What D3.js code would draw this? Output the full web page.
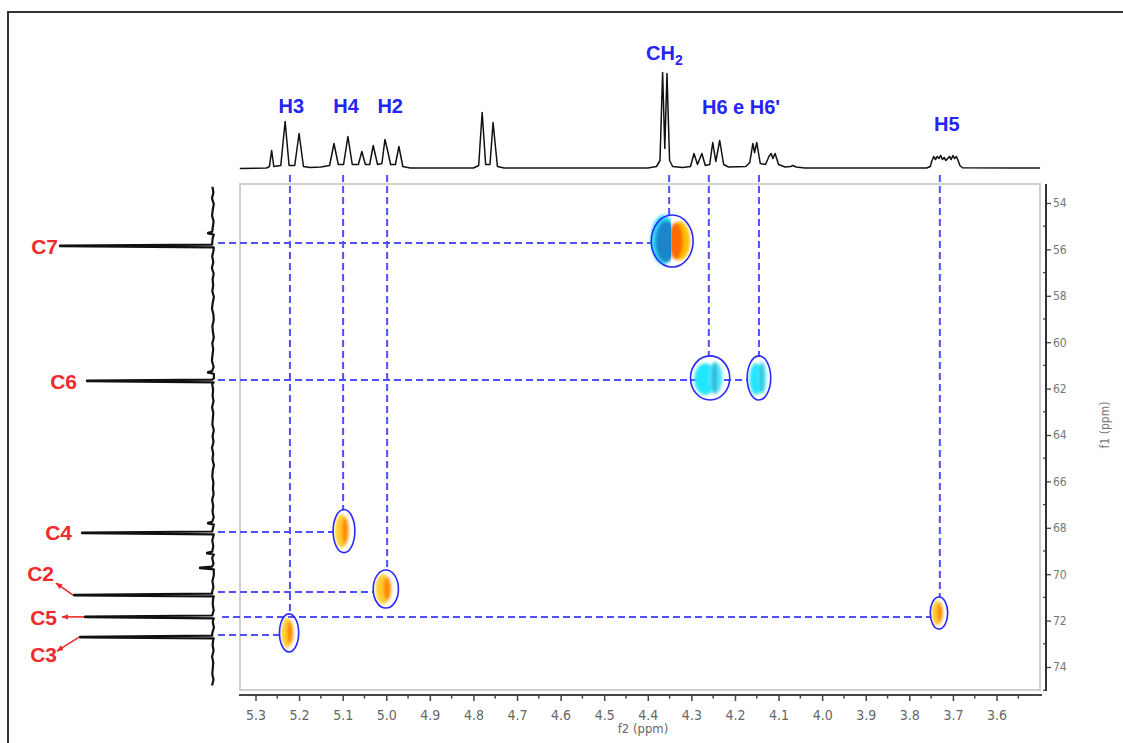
<!DOCTYPE html>
<html><head><meta charset="utf-8">
<script src="https://cdn.jsdelivr.net/npm/d3@7"></script>
<style>body{margin:0;background:#fff;} svg{display:block;}</style>
</head><body>
<svg id="c" width="1123" height="743"></svg>
<script>
// ---------------- DATA ----------------
const f2Ticks = [5.3,5.2,5.1,5.0,4.9,4.8,4.7,4.6,4.5,4.4,4.3,4.2,4.1,4.0,3.9,3.8,3.7,3.6];
const f1Ticks = [54,56,58,60,62,64,66,68,70,72,74];

// 1H projection trace: [ppm, intensity]
const protonTrace = [
 [5.336,0],[5.275,0.5],[5.268,2],[5.263,18],[5.258,2],[5.242,3],[5.232,47],[5.223,3],[5.210,3],[5.200,35],[5.190,2],
 [5.175,1],[5.150,1.5],[5.130,3],[5.120,25],[5.110,4],[5.098,4],[5.088,32],[5.078,4],[5.064,4],[5.056,17],[5.048,4],
 [5.038,4],[5.030,23],[5.020,4],[5.010,5],[5.003,29],[4.997,18],[4.990,4],[4.979,4],[4.971,22],[4.962,2],[4.945,0.5],
 [4.800,0.5],[4.788,3],[4.780,56],[4.772,4],[4.762,4],[4.755,46],[4.745,2],[4.730,0.5],
 [4.400,0.5],[4.380,2],[4.372,8],[4.366,96],[4.361,20],[4.356,95],[4.350,8],[4.343,2],[4.320,1],
 [4.302,2],[4.294,15],[4.286,4],[4.276,15],[4.268,3],[4.258,4],[4.251,26],[4.244,7],[4.235,28],[4.226,4],[4.215,1.5],
 [4.175,2],[4.166,6],[4.159,25],[4.155,16],[4.150,26],[4.142,5],[4.130,4],[4.122,12],[4.117,15],[4.113,10],[4.108,15],
 [4.100,4],[4.085,1.5],[4.072,2],[4.067,3],[4.060,1.5],[4.040,0.5],
 [3.760,0.5],[3.752,2],[3.748,8],[3.744,12],[3.740,9],[3.736,12],[3.732,10],[3.728,13],[3.724,9],[3.720,11],[3.716,8],
 [3.712,10],[3.708,12],[3.704,9],[3.700,13],[3.696,10],[3.692,12],[3.688,8],[3.684,3],[3.678,0.8],[3.500,0.5]
];

// 13C projection: peaks [ppm, intensity] and baseline noise (every 0.25 ppm from 53.3)
const carbonPeaks = [[55.30,5],[55.85,153],[61.30,5],[61.67,126],[67.80,5],[68.22,131],[69.09,6],[69.73,13],[70.90,139],[71.84,128],[72.71,133]];
const carbonNoiseStart = 53.3;
const carbonNoise = [0.6,-0.4,1.0,-0.8,0.3,0.9,-0.6,0.2,-1.0,0.5,0.1,-0.5,0.8,-0.3,1.1,-0.7,0.4,-0.2,0.7,-0.9,0.3,1.0,-0.4,-0.7,0.6,0.1,-0.8,0.7,-0.2,0.5,1.1,-0.6,0.3,-1.0,0.8,-0.1,0.4,-0.5,0.9,-0.3,0.2,0.6,-0.8,0.4,-0.5,1.0,-0.2,0.5,-0.9,0.3,0.7,-0.4,0.1,-0.6,0.9,-0.2,0.5,-0.7,0.6,0.2,-1.1,0.7,-0.3,0.4,0.8,-0.5,0.1,-0.8,0.6,-0.4,1.0,-0.1,0.3,-0.7,0.5,0.3,-0.9,0.8,-0.3,0.4,-0.6,0.9,-0.2,0.2,0.7,-0.5,1.0];

// Carbon assignments
const carbonNames = ["C7","C6","C4","C2","C5","C3"];
const carbonPpm   = [55.85,61.67,68.22,70.90,71.84,72.71];

// HSQC cross peaks
const crossH     = ["CH2","H6","H6'","H4","H2","H5","H3"];
const crossC     = ["C7","C6","C6","C4","C2","C5","C3"];
const crossHppm  = [4.344,4.257,4.145,5.097,5.001,3.732,5.223];
const crossCppm  = [55.64,61.54,61.54,68.14,70.64,71.67,72.53];
const crossWidH  = [0.096,0.090,0.054,0.050,0.058,0.040,0.044];   // ppm (f2) width
const crossWidC  = [2.24,1.90,1.90,1.86,1.64,1.38,1.64];         // ppm (f1) width
const crossPhase = ["mixed","neg","neg","pos","pos","pos","pos"];
const guideHppm  = [4.351,4.260,4.145,5.099,4.998,3.730,5.221];
const guideCppm  = {C7:55.72, C6:61.63, C4:68.18, C2:70.77, C5:71.84, C3:72.62};

// Proton labels
const protonLabelText = ["H3","H4","H2","CH","H6 e H6'","H5"];
const protonLabelPpm  = [5.218,5.092,4.991,4.362,4.186,3.714];

// ---------------- LAYOUT ----------------
const svg = d3.select("#c");
const box = {x0:240, x1:1040, y0:184, y1:690};
const x = d3.scaleLinear().domain([5.3,3.6]).range([255.5,996.5]);
const y = d3.scaleLinear().domain([54,74]).range([203,667]);
const topI = d3.scaleLinear().domain([0,100]).range([168.5,68.5]);
const leftI = d3.scaleLinear().domain([0,160]).range([213,53]);

const BLUE = "#2424f4", RED = "#f02a2a", GUIDE = "#4f4fff";
const boldFont = "'Liberation Sans', Arial, sans-serif";
const narrow = "'Liberation Sans Narrow', 'DejaVu Sans Condensed', sans-serif";

const defs = svg.append("defs");
defs.append("filter").attr("id","blur").attr("x","-50%").attr("y","-50%").attr("width","200%").attr("height","200%")
  .append("feGaussianBlur").attr("stdDeviation",1.6);
const mk = defs.append("marker").attr("id","arr").attr("viewBox","0 0 10 10").attr("refX",9).attr("refY",5)
  .attr("markerWidth",7).attr("markerHeight",7).attr("orient","auto-start-reverse").attr("markerUnits","userSpaceOnUse");
mk.append("path").attr("d","M0,1 L10,5 L0,9 Z").attr("fill",RED);

// outer frame
svg.append("path").attr("d","M8,743 V12 H1123").attr("fill","none").attr("stroke","#333").attr("stroke-width",2);

// plot box
svg.append("rect").attr("x",box.x0).attr("y",box.y0).attr("width",box.x1-box.x0).attr("height",box.y1-box.y0)
  .attr("fill","none").attr("stroke","#cfcfcf").attr("stroke-width",2);

// ---- bottom axis
const gx = svg.append("g").attr("transform","translate(0,695)")
  .call(d3.axisBottom(x).tickValues(f2Ticks).tickFormat(d3.format(".1f")).tickSize(6).tickPadding(9));
gx.select(".domain").remove();
gx.selectAll(".tick line").attr("stroke","#444").attr("stroke-width",1.5);
gx.selectAll(".tick text").attr("fill","#666").style("font-family",narrow).style("font-size","14px");
const f2Minor = f2Ticks.map(d=>+(d-0.05).toFixed(2));
gx.selectAll(".minor").data(f2Minor).join("line").attr("class","minor")
  .attr("x1",d=>x(d)).attr("x2",d=>x(d)).attr("y1",0).attr("y2",3.5).attr("stroke","#444").attr("stroke-width",1.5);
svg.append("line").attr("x1",239).attr("x2",1042).attr("y1",695).attr("y2",695).attr("stroke","#444").attr("stroke-width",2.2);
svg.append("text").attr("x",643).attr("y",733).attr("text-anchor","middle").attr("fill","#666")
  .style("font-family",narrow).style("font-size","13px").text("f2 (ppm)");

// ---- right axis
const gy = svg.append("g").attr("transform","translate(1046,0)")
  .call(d3.axisRight(y).tickValues(f1Ticks).tickSize(5).tickPadding(2));
gy.select(".domain").remove();
gy.selectAll(".tick line").attr("stroke","#444").attr("stroke-width",1.3);
gy.selectAll(".tick text").attr("fill","#777").style("font-family",narrow).style("font-size","12px");
const f1Minor = f1Ticks.map(d=>d+1);
gy.selectAll(".minor").data(f1Minor).join("line").attr("class","minor")
  .attr("x1",-3).attr("x2",0).attr("y1",d=>y(d)).attr("y2",d=>y(d)).attr("stroke","#444").attr("stroke-width",1.3);
svg.append("line").attr("x1",1046).attr("x2",1046).attr("y1",184).attr("y2",691).attr("stroke","#333").attr("stroke-width",2);
svg.append("text").attr("transform","translate(1109,425) rotate(-90)").attr("text-anchor","middle").attr("fill","#777")
  .style("font-family",narrow).style("font-size","12px").text("f1 (ppm)");

// ---- 1H trace
svg.append("path").datum(protonTrace)
  .attr("d", d3.line().x(d=>x(d[0])).y(d=>topI(d[1])))
  .attr("fill","none").attr("stroke","#111").attr("stroke-width",1.5).attr("stroke-linejoin","round");

// ---- 13C trace
let cPts = carbonNoise.map((v,i)=>[carbonNoiseStart+i*0.25, v]);
cPts = cPts.filter(p=>!carbonPeaks.some(q=>Math.abs(q[0]-p[0])<0.09));
carbonPeaks.forEach(q=>{
  cPts.push([q[0]-0.06,0.8]); cPts.push([q[0]-0.012,q[1]]);
  cPts.push([q[0]+0.012,q[1]]); cPts.push([q[0]+0.06,-0.8]);
});
cPts.sort((a,b)=>a[0]-b[0]);
svg.append("path").datum(cPts)
  .attr("d", d3.line().x(d=>leftI(d[1])).y(d=>y(d[0])))
  .attr("fill","none").attr("stroke","#111").attr("stroke-width",2.2).attr("stroke-linejoin","round");

// ---- carbon labels
const cLabelPos = {C7:[58,254], C6:[77,389], C4:[72,540], C2:[54,581], C5:[57,625], C3:[57,662]};
const cArrow = {C2:[-17,-12], C5:[-22,0], C3:[-22,14]};
carbonNames.forEach((n,i)=>{
  const p = cLabelPos[n];
  svg.append("text").attr("x",p[0]).attr("y",p[1]).attr("text-anchor","end").attr("fill",RED)
    .style("font-family",boldFont).style("font-weight","bold").style("font-size","21px").text(n);
  if (cArrow[n]) {
    const pk = carbonPeaks.find(q=>q[0]===carbonPpm[i]);
    const sx = leftI(pk[1]) - 1, sy = y(carbonPpm[i]);
    svg.append("line").attr("x1",sx).attr("y1",sy).attr("x2",sx+cArrow[n][0]).attr("y2",sy+cArrow[n][1])
      .attr("stroke",RED).attr("stroke-width",1.6).attr("marker-end","url(#arr)");
  }
});

// ---- cross peaks geometry
const cps = crossH.map((h,i)=>({h, c:crossC[i], cx:x(crossHppm[i]), cy:y(crossCppm[i]),
  rx:(x(0)-x(crossWidH[i]))/2, ry:(y(crossWidC[i])-y(0))/2, phase:crossPhase[i], gx:x(guideHppm[i])}));

// guides (dashed)
const gGuides = svg.append("g").attr("stroke",GUIDE).attr("stroke-width",2).attr("stroke-dasharray","7,4").attr("fill","none");
cps.forEach(p=>{
  gGuides.append("line").attr("x1",p.gx).attr("x2",p.gx).attr("y1",175).attr("y2",p.cy-p.ry+1);
});
Object.keys(guideCppm).forEach(c=>{
  const grp = cps.filter(p=>p.c===c);
  const far = grp.reduce((a,b)=>a.cx>b.cx?a:b);
  const gy0 = y(guideCppm[c]);
  const dy = (gy0-far.cy)/far.ry;
  const ex = far.cx - far.rx*Math.sqrt(Math.max(0,1-dy*dy));
  gGuides.append("line").attr("x1",c==="C5"?222:218).attr("x2",ex).attr("y1",gy0).attr("y2",gy0);
});

// blobs
cps.forEach((p,i)=>{
  const g = svg.append("g");
  const blob = (gg,dx,dy,sx,sy,fill)=>gg.append("ellipse").attr("cx",p.cx+dx*p.rx).attr("cy",p.cy+dy*p.ry)
      .attr("rx",sx*p.rx).attr("ry",sy*p.ry).attr("fill",fill);
  if (p.phase==="pos") {
    const b = g.append("g").attr("filter","url(#blur)");
    blob(b,-0.2,0,0.62,0.78,"#ffcc30");
    blob(b,0.1,-0.02,0.3,0.6,"#ff8a00");
  } else if (p.phase==="neg") {
    const b = g.append("g").attr("filter","url(#blur)");
    blob(b,-0.25,0.05,0.55,0.72,"#22e6ff");
    blob(b,0.28,0,0.35,0.7,"#4fe4f8");
    blob(b,0.22,0,0.12,0.75,"#2ab4d6");
  } else {
    const idL = "clipL"+i, idR = "clipR"+i;
    defs.append("clipPath").attr("id",idL).append("rect").attr("x",p.cx-3*p.rx).attr("y",p.cy-2*p.ry).attr("width",3*p.rx-1).attr("height",4*p.ry);
    defs.append("clipPath").attr("id",idR).append("rect").attr("x",p.cx-1).attr("y",p.cy-2*p.ry).attr("width",3*p.rx).attr("height",4*p.ry);
    const L = g.append("g").attr("clip-path",`url(#${idL})`).append("g").attr("filter","url(#blur)");
    blob(L,-0.42,-0.05,0.6,0.95,"#2ad8ff");
    blob(L,-0.3,0.02,0.5,0.8,"#1f86c8");
    const R = g.append("g").attr("clip-path",`url(#${idR})`).append("g").attr("filter","url(#blur)");
    blob(R,0.35,0,0.5,0.75,"#ffc000");
    blob(R,0.18,0,0.34,0.7,"#ff6a00");
  }
  g.append("ellipse").attr("cx",p.cx).attr("cy",p.cy).attr("rx",p.rx).attr("ry",p.ry)
    .attr("fill","none").attr("stroke","#2a2aff").attr("stroke-width",1.6);
});

// ---- proton labels
const pLabelY = {"H3":113,"H4":113,"H2":113,"CH":60,"H6 e H6'":114,"H5":131};
protonLabelText.forEach((t,i)=>{
  const tx = svg.append("text").attr("x",x(protonLabelPpm[i])).attr("y",pLabelY[t])
    .attr("text-anchor","middle").attr("fill",BLUE)
    .style("font-family",boldFont).style("font-weight","bold").style("font-size","20px");
  if (t==="CH") {
    tx.append("tspan").text("CH");
    tx.append("tspan").attr("dy",5).style("font-size","14px").text("2");
  } else tx.text(t);
});
</script>
</body></html>
